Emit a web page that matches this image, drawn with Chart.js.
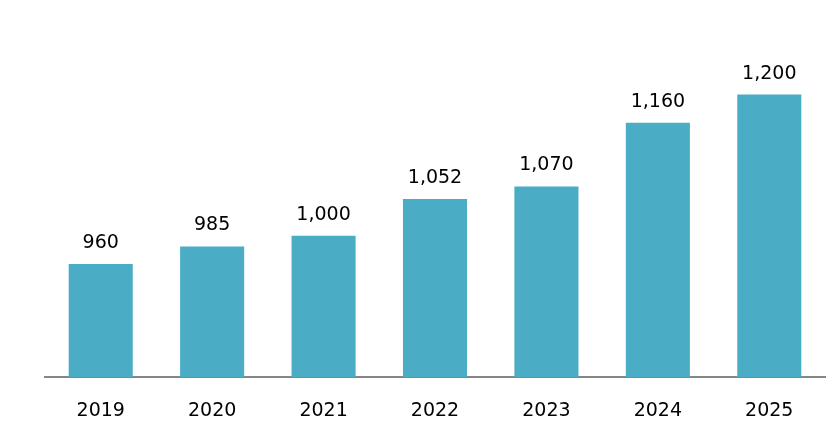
<!DOCTYPE html>
<html>
<head>
<meta charset="utf-8">
<script src="https://cdn.jsdelivr.net/npm/chart.js@4"></script>
<style>
  html, body { margin: 0; padding: 0; background: #ffffff; }
  #wrap { width: 835px; height: 421px; }
</style>
</head>
<body>
<div id="wrap"><canvas id="c" width="835" height="421"></canvas></div>
<script>
const categories = ['2019', '2020', '2021', '2022', '2023', '2024', '2025'];
const values = [960, 985, 1000, 1052, 1070, 1160, 1200];
const barColor = '#4BACC6';
const FONT = "'DejaVu Sans', sans-serif";

const valueLabels = {
  id: 'valueLabels',
  afterDatasetsDraw(chart) {
    const ctx = chart.ctx;
    const meta = chart.getDatasetMeta(0);
    ctx.save();
    ctx.font = '19px ' + FONT;
    ctx.fillStyle = '#000000';
    ctx.textAlign = 'center';
    ctx.textBaseline = 'alphabetic';
    meta.data.forEach((bar, i) => {
      ctx.fillText(values[i].toLocaleString('en-US'), bar.x, bar.y - 16);
    });
    ctx.restore();
  }
};

new Chart(document.getElementById('c'), {
  type: 'bar',
  data: {
    labels: categories,
    datasets: [{
      data: values,
      backgroundColor: barColor,
      borderWidth: 0,
      barPercentage: 0.575,
      categoryPercentage: 1.0
    }]
  },
  options: {
    responsive: false,
    animation: false,
    devicePixelRatio: 1,
    layout: { padding: { left: 45, right: 10, top: 24, bottom: 0 } },
    plugins: { legend: { display: false }, tooltip: { enabled: false } },
    scales: {
      x: {
        grid: { display: false, drawTicks: false },
        border: { display: true, color: '#868686', width: 2 },
        ticks: { color: '#000000', font: { family: FONT, size: 19 }, padding: 23 },
        afterFit(scale) { scale.height = 44; }
      },
      y: {
        display: false,
        min: 800,
        max: 1300
      }
    }
  },
  plugins: [valueLabels]
});
</script>
</body>
</html>
